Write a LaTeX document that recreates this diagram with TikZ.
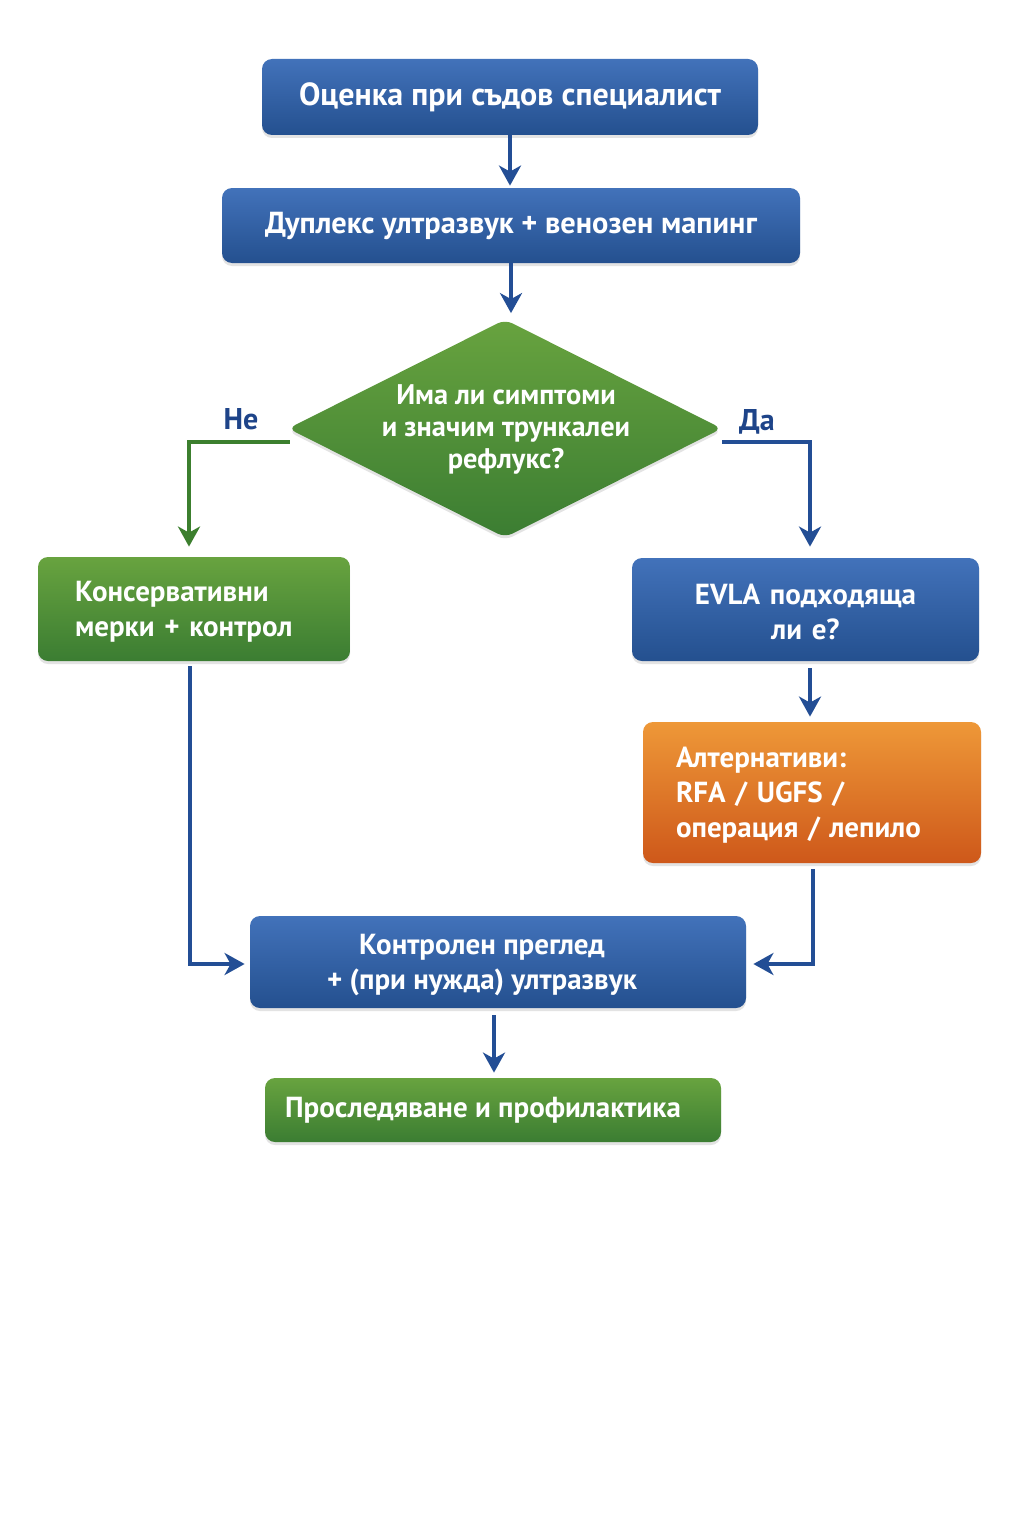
\documentclass[tikz,border=0pt]{standalone}
\usepackage{fontspec}
\setmainfont{PT Sans}
\usetikzlibrary{shapes.geometric,arrows.meta,calc,shadows}
\definecolor{blueTop}{HTML}{4272BA}
\definecolor{blueBot}{HTML}{24508F}
\definecolor{greenTop}{HTML}{68A33F}
\definecolor{greenBot}{HTML}{3B7D32}
\definecolor{orangeTop}{HTML}{EE9838}
\definecolor{orangeBot}{HTML}{CE581A}
\definecolor{arrBlue}{HTML}{234E95}
\definecolor{arrGreen}{HTML}{3C7F2E}
\definecolor{lblBlue}{HTML}{1E4489}
\newcommand{\topstrut}{\rule{0pt}{13pt}}
\tikzset{
  box/.style={rectangle, rounded corners=5pt, text=white, inner sep=0pt, align=center,
    font=\bfseries\fontsize{14.5}{17.5}\selectfont,
    drop shadow={opacity=0.22, shadow xshift=0pt, shadow yshift=-1.5pt}},
  bluebox/.style={box, top color=blueTop, bottom color=blueBot},
  greenbox/.style={box, top color=greenTop, bottom color=greenBot},
  orangebox/.style={box, top color=orangeTop, bottom color=orangeBot},
  barrow/.style={draw=arrBlue, line width=2pt, -{Stealth[length=10pt,width=11pt,inset=3pt]}},
  garrow/.style={draw=arrGreen, line width=2pt, -{Stealth[length=10pt,width=11pt,inset=3pt]}},
  lbl/.style={text=lblBlue, font=\bfseries\fontsize{15}{18}\selectfont, inner sep=0pt},
}
\begin{document}
\begin{tikzpicture}[x=0.5pt,y=-0.5pt]
\useasboundingbox[fill=white] (0,0) rectangle (1024,1536);

\node[bluebox, minimum width=248pt, minimum height=38pt, font=\bfseries\fontsize{16}{19}\selectfont] (b1) at (510,97) {\raisebox{-1pt}{Оценка при съдов специалист}};
\node[bluebox, minimum width=289pt, minimum height=37.5pt, font=\bfseries\fontsize{15.2}{18}\selectfont] (b2) at (511,225.5) {\raisebox{-1pt}{Дуплекс ултразвук + венозен мапинг}};

\node[diamond, rounded corners=4pt, inner sep=0pt, minimum width=217pt, minimum height=109pt,
  top color=greenTop, bottom color=greenBot,
  drop shadow={opacity=0.22, shadow xshift=0pt, shadow yshift=-1.5pt}] (dia) at (505,428.5) {};
\node[text=white, align=center, inner sep=0pt, font=\bfseries\fontsize{14.2}{16}\selectfont] (diat) at (506,429) {Има ли симптоми\\и значим трункалеи\\рефлукс?};

\node[lbl] (ne) at (241,419) {Не};
\node[lbl] (da) at (757,422) {Да};

\node[greenbox, minimum width=156pt, minimum height=52pt, align=left, text width=119pt, inner xsep=18.5pt] (cons) at (194,609) {\topstrut Консервативни\\мерки + контрол};
\node[bluebox, minimum width=173.5pt, minimum height=51.5pt, text width=150pt] (evla) at (805.5,609.5) {\topstrut EVLA подходяща\\ли е?};
\node[orangebox, minimum width=169pt, minimum height=70.5pt, align=left, text width=136pt, inner xsep=16.5pt] (alt) at (812,792.5) {\topstrut Алтернативи:\\RFA / UGFS /\\операция / лепило};
\node[bluebox, minimum width=248pt, minimum height=46pt] (ctrl) at (498,962) {\hspace*{-16pt}\topstrut Контролен преглед\\\hspace*{-16pt}+ (при нужда) ултразвук};
\node[greenbox, minimum width=228pt, minimum height=32pt] (fin) at (493,1110) {\hspace*{-10pt}\raisebox{-1pt}{Проследяване и профилактика}};

\draw[barrow] (b1.south) -- ($(b1.south |- b2.north)+(0,-2)$);
\draw[barrow] (b2.south) -- ($(b2.south |- dia.north)+(0,-6)$);
\draw[garrow] ($(dia.west)+(2,13.5)$) -| ($(cons.north)+(-5,-10)$);
\draw[barrow] ($(dia.east)+(0,13.5)$) -| ($(evla.north)+(4.5,-11)$);
\draw[barrow] ($(evla.south)+(4.5,7)$) -- ($(evla.south |- alt.north)+(4.5,-5)$);
\draw[barrow] ($(cons.south)+(-4,5)$) |- ($(ctrl.west)+(-5,2)$);
\draw[barrow] ($(alt.south)+(1,6)$) |- ($(ctrl.east)+(7,2)$);
\draw[barrow] ($(ctrl.south)+(-4,7)$) -- ($(ctrl.south |- fin.north)+(-4,-5)$);
\end{tikzpicture}
\end{document}
